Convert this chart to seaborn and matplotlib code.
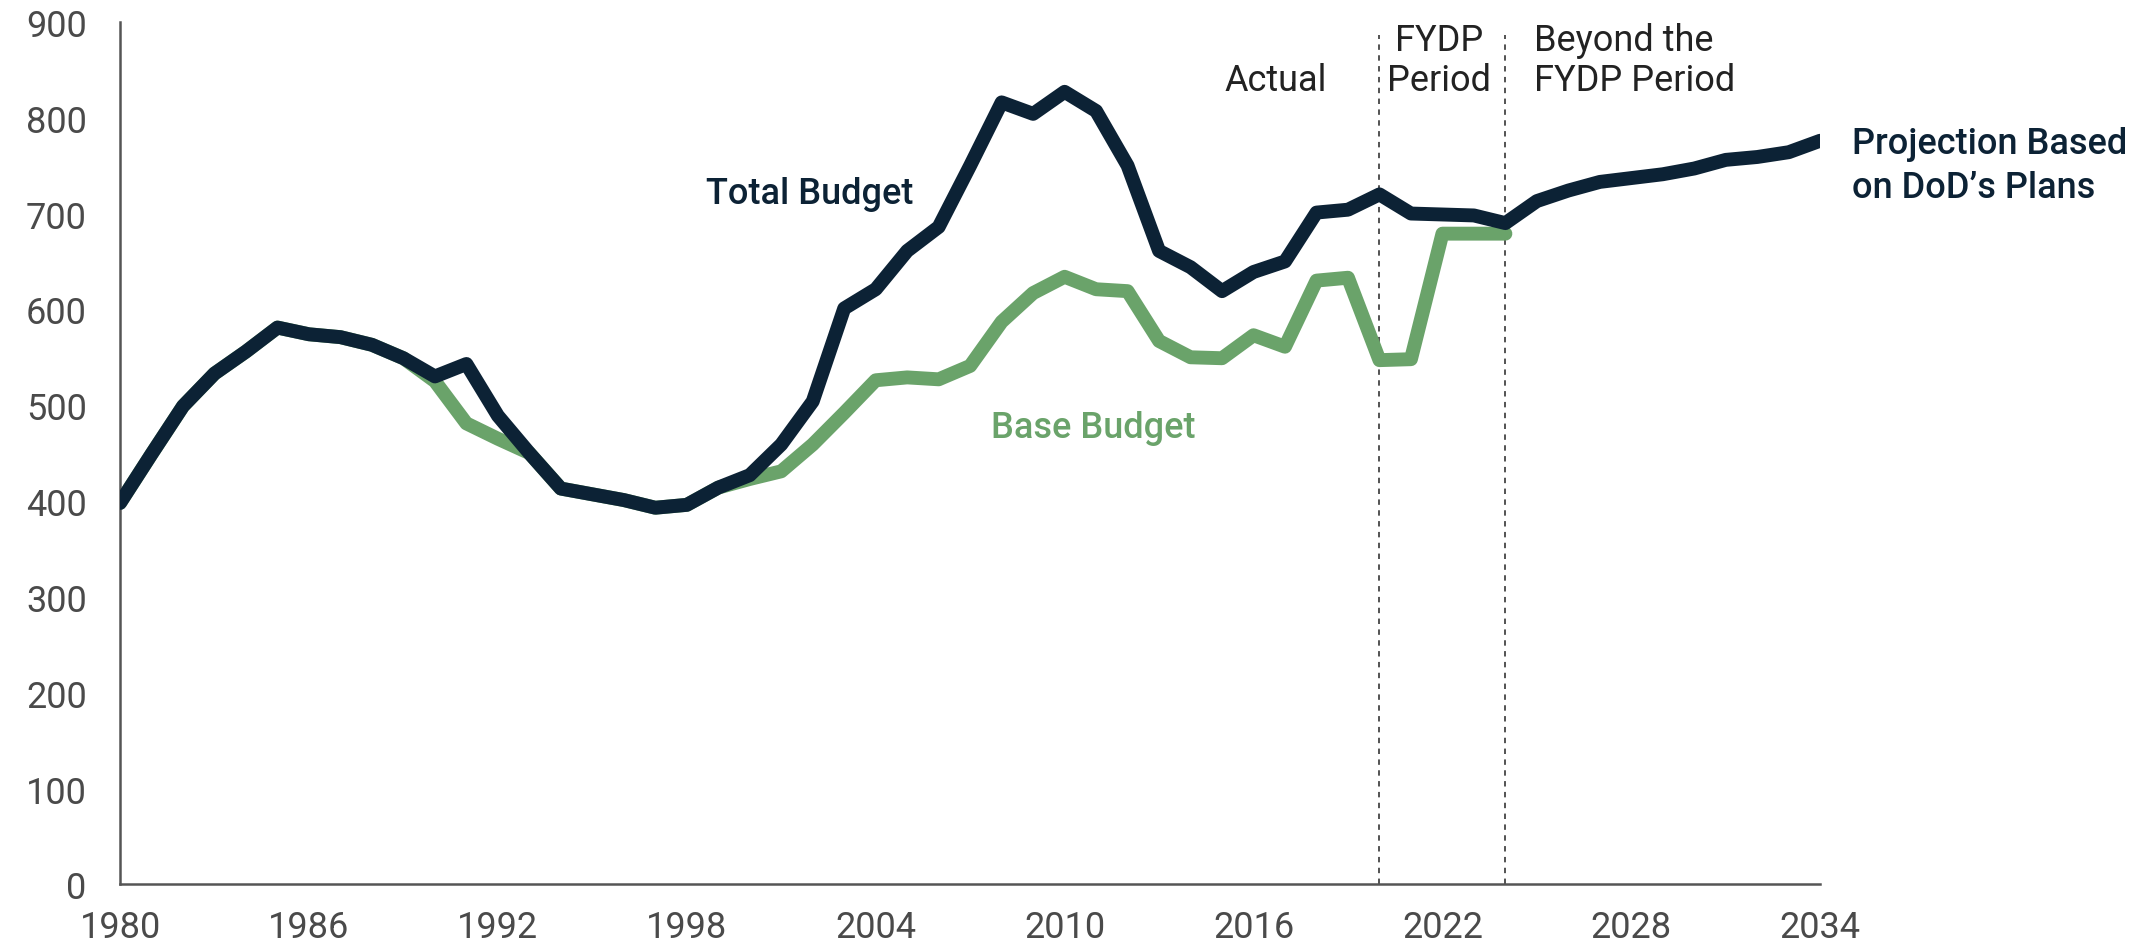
import numpy as np
import pandas as pd
import matplotlib
matplotlib.use('Agg')
import matplotlib.pyplot as plt
import seaborn as sb

# dati (mld. USD)
gadi_kopa = list(range(1980, 2035))
kopejais = [398, 449, 499, 533, 556, 581, 574, 571, 563, 549,
            530, 543, 489, 450, 413, 407, 401, 393, 396, 414,
            427, 459, 504, 601, 621, 661, 686, 750, 816, 804,
            827, 807, 750, 661, 644, 619, 639, 650, 701, 704,
            720, 700, 699, 698, 690, 713, 724, 733, 737, 741,
            747, 756, 759, 764, 776]

gadi_baze = list(range(1980, 2025))
bazes = [398, 449, 499, 533, 556, 581, 574, 571, 563, 549,
         525, 481, 465, 450, 413, 407, 401, 393, 396, 414,
         423, 431, 459, 492, 526, 529, 527, 541, 587, 617,
         634, 621, 619, 567, 550, 549, 573, 561, 630, 633,
         547, 548, 679, 679, 679]

x_ticks = [1980, 1986, 1992, 1998, 2004, 2010, 2016, 2022, 2028, 2034]
y_ticks = [0, 100, 200, 300, 400, 500, 600, 700, 800, 900]
perioda_robezas = [2020, 2024]

navy = '#0c2235'
zals = '#6aa36a'
peleks = '#555555'

sb.set_style('white')
plt.rcParams['font.family'] = ['Roboto', 'DejaVu Sans']

df_k = pd.DataFrame({'gads': gadi_kopa, 'vert': kopejais})
df_b = pd.DataFrame({'gads': gadi_baze, 'vert': bazes})

fig = plt.figure(figsize=(21.44, 9.53), dpi=100)
ax = fig.add_axes([0.056, 0.071, 0.793, 0.905])

for xr in perioda_robezas:
    ax.axvline(xr, ymin=0, ymax=0.985, color='#444444', lw=1.3, ls=(0, (3, 3)), zorder=1)

sb.lineplot(data=df_b, x='gads', y='vert', ax=ax, color=zals, lw=10, zorder=2)
sb.lineplot(data=df_k, x='gads', y='vert', ax=ax, color=navy, lw=10, zorder=3)

ax.set_xlim(1980, 2034)
ax.set_ylim(0, 900)
ax.set_xticks(x_ticks)
ax.set_yticks(y_ticks)
ax.set_xlabel('')
ax.set_ylabel('')
ax.tick_params(axis='both', direction='in', length=11, width=1.5, color=peleks,
               labelsize=26, labelcolor='#4a4a4a')
ax.tick_params(axis='y', pad=24)
ax.tick_params(axis='x', pad=18)
for s in ['top', 'right']:
    ax.spines[s].set_visible(False)
for s in ['left', 'bottom']:
    ax.spines[s].set_color(peleks)
    ax.spines[s].set_linewidth(1.8)

# teksti
ax.text(2001.9, 721, 'Total Budget', color=navy, fontsize=26, fontweight='medium',
        ha='center', va='center')
ax.text(2010.9, 477, 'Base Budget', color=zals, fontsize=26, fontweight='medium',
        ha='center', va='center')
ax.text(2016.7, 839, 'Actual', color='#222222', fontsize=26, ha='center', va='center')
ax.text(2021.9, 860, 'FYDP\nPeriod', color='#222222', fontsize=26, ha='center', va='center',
        linespacing=1.15)
ax.text(2024.9, 860, 'Beyond the\nFYDP Period', color='#222222', fontsize=26, ha='left',
        va='center', linespacing=1.15)
ax.text(2035.0, 750, 'Projection Based\non DoD\u2019s Plans', color=navy, fontsize=26,
        fontweight='medium', ha='left', va='center', linespacing=1.35, clip_on=False)

plt.savefig('out.png', dpi=100)
